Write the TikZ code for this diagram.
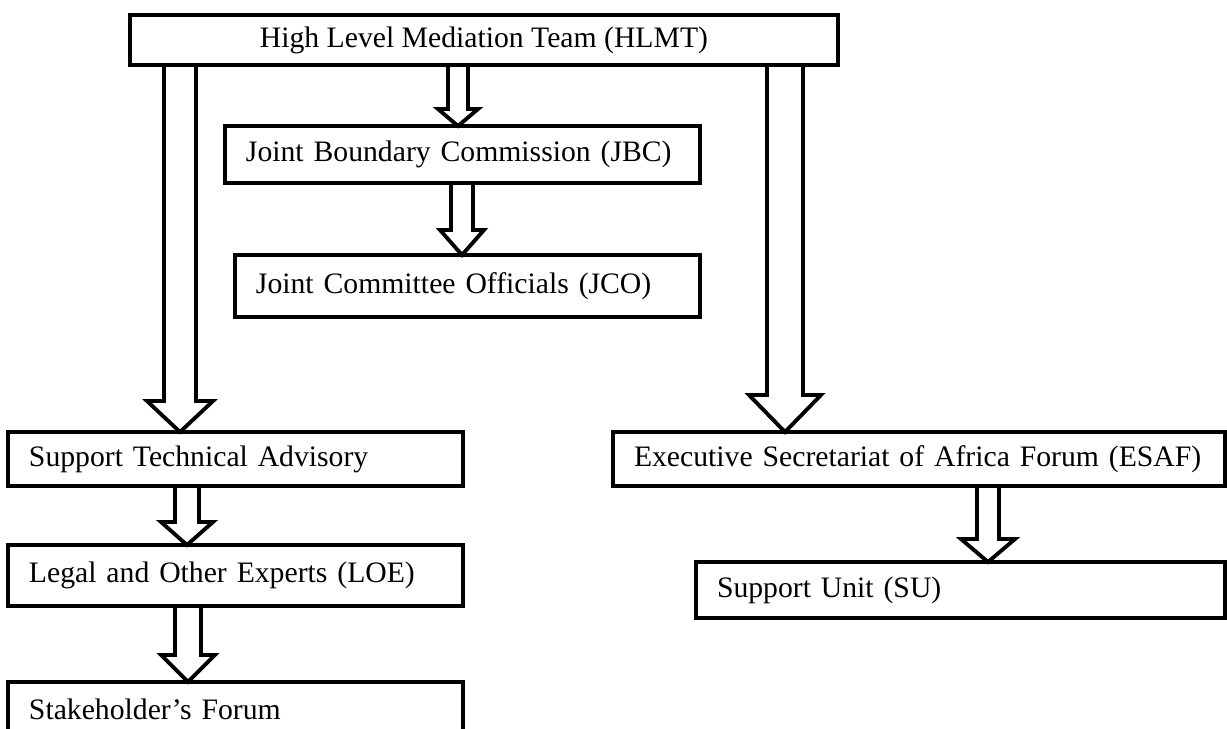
\documentclass[tikz,border=0pt]{standalone}
\usepackage{fontspec}
\setmainfont{Liberation Serif}
\usetikzlibrary{positioning,calc}

% hollow block arrow: from, to, x, shaft half width, head half width, head length
\newcommand{\blockarrow}[6]{%
    \coordinate (ax) at (#3,0);
    \draw [blockline] ($(#1.south -| ax)+(-#4,0)$) -- ($(#2.north -| ax)+(-#4,-#6)$) -- ($(#2.north -| ax)+(-#5,-#6)$) -- (#2.north -| ax) -- ($(#2.north -| ax)+(#5,-#6)$) -- ($(#2.north -| ax)+(#4,-#6)$) -- ($(#1.south -| ax)+(#4,0)$);
}

\begin{document}
\begin{tikzpicture}[x=0.02cm, y=-0.02cm,
    box/.style={rectangle, draw=black, line width=2.2pt, outer sep=0pt, inner xsep=0.42cm, align=left, font=\fontsize{16.9pt}{19pt}\selectfont},
    blockline/.style={draw=black, line width=2.2pt}]
    \useasboundingbox (0,0) rectangle (1227,729);
    \clip (0,0) rectangle (1227,729);

    % Mediation team - top level
    \node [box, align=center, minimum width=14.16cm, minimum height=1cm, anchor=north west] (hlmt) at (130,15) {High Level Mediation Team (HLMT)};

    % Commission and officials - middle column
    \node [box, text width=8.66cm, minimum height=1.14cm, anchor=north west] (jbc) at (225,126) {Joint Boundary Commission (JBC)};
    \node [box, text width=8.46cm, minimum height=1.24cm, below=1.44cm of jbc, xshift=0.1cm] (jco) {Joint Committee Officials (JCO)};

    % Technical branch - left column
    \node [box, text width=8.26cm, minimum height=1.08cm, anchor=north west] (sta) at (8,432) {Support Technical Advisory};
    \node [box, text width=8.26cm, minimum height=1.22cm, below=1.18cm of sta] (loe) {Legal and Other Experts (LOE)};
    \node [box, text width=8.26cm, minimum height=1.08cm, below=1.52cm of loe] (sf) {Stakeholder’s Forum};

    % Secretariat branch - right column
    \node [box, text width=11.4cm, minimum height=1.08cm, anchor=north west] (esaf) at (613,432) {Executive Secretariat of Africa Forum (ESAF)};
    \node [box, text width=9.74cm, minimum height=1.12cm, anchor=north west] (su) at (696,562) {Support Unit (SU)};

    % Block arrows
    \blockarrow{hlmt}{jbc}{458}{10}{20}{17}
    \blockarrow{jbc}{jco}{462}{11}{22}{25}
    \blockarrow{hlmt}{sta}{180}{16}{33}{31}
    \blockarrow{sta}{loe}{187}{12}{26}{23}
    \blockarrow{loe}{sf}{188}{13}{27}{27}
    \blockarrow{hlmt}{esaf}{785}{18}{36}{37}
    \blockarrow{esaf}{su}{988}{11}{27}{23}

\end{tikzpicture}
\end{document}
